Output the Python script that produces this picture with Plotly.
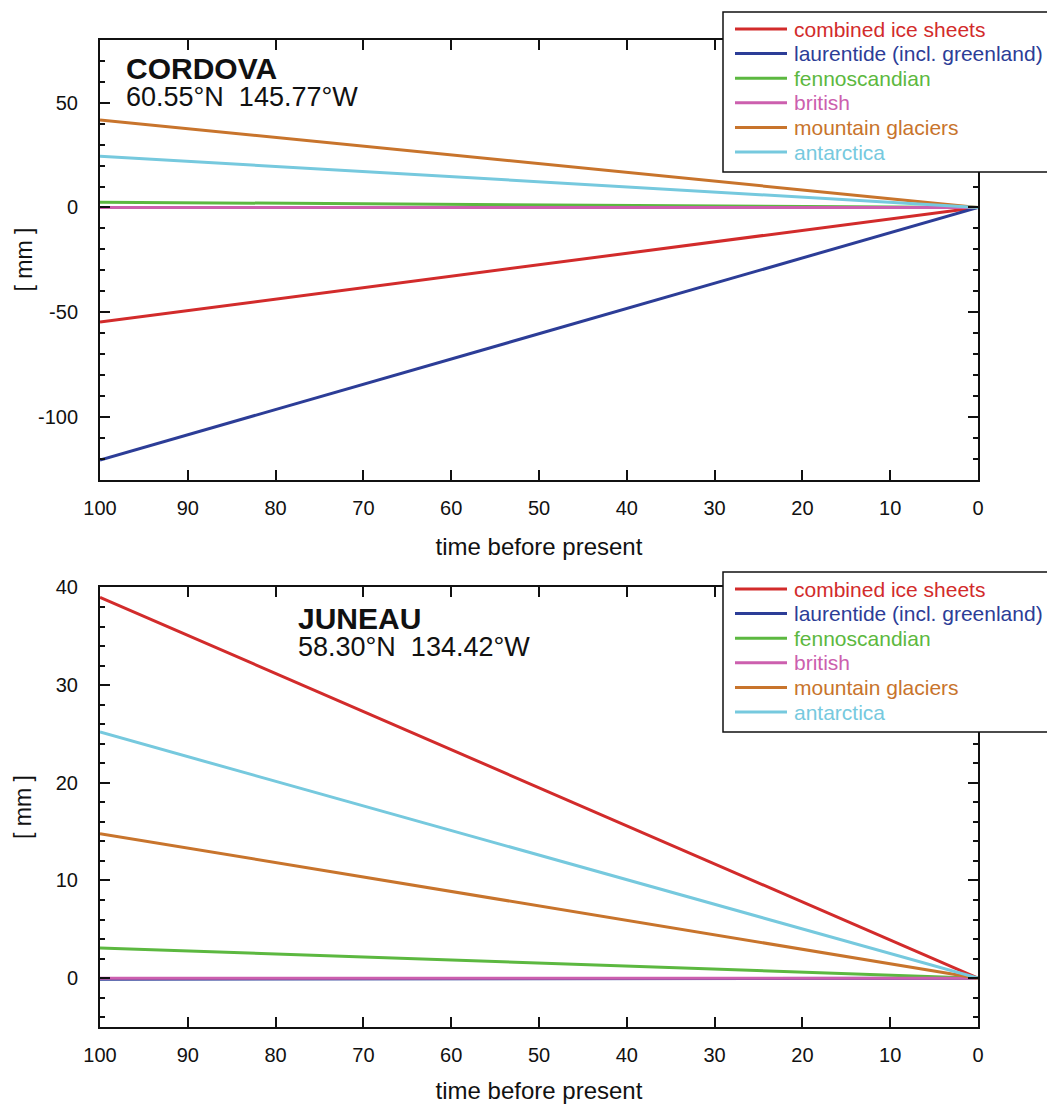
import plotly.graph_objects as go
from plotly.subplots import make_subplots

# ---- data ----
series_names = ["combined ice sheets", "laurentide (incl. greenland)", "fennoscandian",
                "british", "mountain glaciers", "antarctica"]
series_colors = ["#d22b2b", "#2c3d97", "#5cb840", "#cc5fae", "#c8742c", "#76c9de"]
time_bp = [100, 0]

cordova_start = [-54.8, -120.7, 2.5, 0.0, 41.8, 24.5]
juneau_start = [39.0, -0.1, 3.1, 0.0, 14.8, 25.2]

x_ticks = [100, 90, 80, 70, 60, 50, 40, 30, 20, 10, 0]
y_ticks_top = [-100, -50, 0, 50]
y_ticks_bottom = [0, 10, 20, 30, 40]

FONT = "Liberation Sans, Arial, Helvetica, sans-serif"
W, H = 1047, 1104
ML, MR, MT, MB = 100, 69, 40, 77
PW, PH = W - ML - MR, H - MT - MB


def px_x(px):
    return (px - ML) / PW


def px_y(py):
    return (H - MB - py) / PH


fig = make_subplots(rows=2, cols=1, vertical_spacing=0.1094)

for row, starts in ((1, cordova_start), (2, juneau_start)):
    for name, col, s in zip(series_names, series_colors, starts):
        fig.add_trace(go.Scatter(x=time_bp, y=[s, 0], mode="lines",
                                 line=dict(color=col, width=3), name=name,
                                 showlegend=False), row=row, col=1)

axis_common = dict(showline=True, linecolor="#111", linewidth=2, mirror="ticks",
                   ticks="inside", ticklen=10, tickwidth=2, tickcolor="#111",
                   showgrid=False, zeroline=False,
                   tickfont=dict(family=FONT, size=20, color="#111"))

for r in (1, 2):
    fig.update_xaxes(range=[100, 0], tickvals=x_ticks, ticklabelstandoff=9,
                     title=dict(text="time before present",
                                font=dict(family=FONT, size=24, color="#111"),
                                standoff=21),
                     row=r, col=1, **axis_common)

fig.update_yaxes(range=[-130, 80], tickvals=y_ticks_top,
                 ticktext=[str(v) for v in y_ticks_top], ticklabelstandoff=16,
                 minor=dict(dtick=10, tick0=0, ticks="inside", ticklen=5, tickwidth=2,
                            tickcolor="#111"),
                 row=1, col=1, **axis_common)
fig.update_yaxes(range=[-5, 40], tickvals=y_ticks_bottom,
                 ticktext=[str(v) for v in y_ticks_bottom], ticklabelstandoff=16,
                 minor=dict(dtick=2, tick0=0, ticks="inside", ticklen=5, tickwidth=2,
                            tickcolor="#111"),
                 row=2, col=1, **axis_common)

annotations = [
    dict(text="<b>CORDOVA</b>", xref="x domain", yref="y domain", x=0.027, y=0.935,
         xanchor="left", yanchor="middle", showarrow=False,
         font=dict(family=FONT, size=30, color="#111")),
    dict(text="60.55°N  145.77°W", xref="x domain", yref="y domain", x=0.027, y=0.871,
         xanchor="left", yanchor="middle", showarrow=False,
         font=dict(family=FONT, size=27, color="#111")),
    dict(text="<b>JUNEAU</b>", xref="x2 domain", yref="y2 domain", x=0.223, y=0.93,
         xanchor="left", yanchor="middle", showarrow=False,
         font=dict(family=FONT, size=30, color="#111")),
    dict(text="58.30°N  134.42°W", xref="x2 domain", yref="y2 domain", x=0.223, y=0.865,
         xanchor="left", yanchor="middle", showarrow=False,
         font=dict(family=FONT, size=27, color="#111")),
]
# y-axis titles
for yc in ((40 + 479) / 2, (587 + 1027) / 2):
    annotations.append(dict(text="[ mm ]", xref="paper", yref="paper", x=px_x(23),
                            y=px_y(yc), xanchor="center", yanchor="middle",
                            textangle=-90, showarrow=False,
                            font=dict(family=FONT, size=23, color="#111")))

shapes = []
# legends (one per panel)
for box_top in (12, 572):
    shapes.append(dict(type="rect", xref="paper", yref="paper",
                       x0=px_x(723), x1=px_x(1070), y0=px_y(box_top), y1=px_y(box_top + 160),
                       line=dict(color="#111", width=1.5), fillcolor="white", layer="above"))
    for i, (name, col) in enumerate(zip(series_names, series_colors)):
        yc = box_top + 17 + i * 24.6
        shapes.append(dict(type="line", xref="paper", yref="paper",
                           x0=px_x(735), x1=px_x(787), y0=px_y(yc), y1=px_y(yc),
                           line=dict(color=col, width=3), layer="above"))
        annotations.append(dict(text=name, xref="paper", yref="paper", x=px_x(792),
                                y=px_y(yc), xanchor="left", yanchor="middle",
                                showarrow=False,
                                font=dict(family=FONT, size=21, color=col)))

fig.update_layout(
    width=W, height=H,
    margin=dict(l=ML, r=MR, t=MT, b=MB, autoexpand=False),
    paper_bgcolor="white", plot_bgcolor="white",
    showlegend=False,
    annotations=annotations,
    shapes=shapes,
)

fig.write_html("out.html")
